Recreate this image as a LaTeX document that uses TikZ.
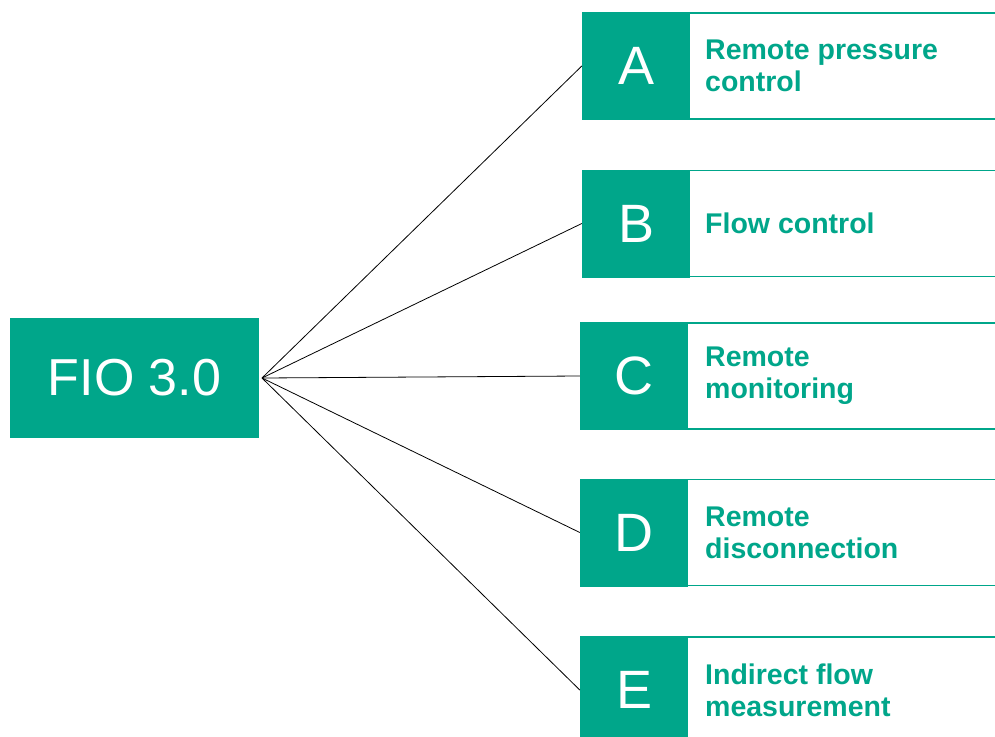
\documentclass[tikz,border=0pt]{standalone}
\usepackage{fontspec}
\setmainfont{Liberation Sans}
\definecolor{fgreen}{RGB}{0,166,138}
\begin{document}
\begin{tikzpicture}[x=1pt,y=-1pt,
  letterbox/.style={fill=fgreen,draw=none,minimum width=108pt,minimum height=108pt,inner sep=0pt,text=white,font=\fontsize{54}{54}\selectfont},
  labelbox/.style={draw=fgreen,line width=1.6pt},
  labeltext/.style={anchor=west,align=left,text=fgreen,inner sep=0pt,font=\fontsize{28.5}{32}\selectfont\bfseries},
  link/.style={draw=black,line width=0.8pt}]
\clip (0,0) rectangle (995,736);
\fill[white] (0,0) rectangle (995,736);
\node[fill=fgreen,minimum width=249pt,minimum height=120pt,inner sep=0pt,text=white,font=\fontsize{52}{52}\selectfont] (fio) at (134.5,378) {FIO 3.0};
\coordinate (hub) at (262,378);
% boxes
\foreach \n/\x/\y/\t in {A/636/66/{Remote pressure\\control}, B/636/223.5/{Flow control}, C/634/376/{Remote\\monitoring}, D/634/532.5/{Remote\\disconnection}, E/634/690/{Indirect flow\\measurement}}{
  \draw[labelbox] (\x,\y) ++(0,-53) rectangle (1010,\y+53);
  \node[letterbox] (\n) at (\x,\y) {\n};
  \node[labeltext] (t\n) at (705,\y) {\t};
}
\foreach \n in {A,B,C,D,E}{
  \draw[link] (hub) -- (\n.west);
}
\end{tikzpicture}
\end{document}
